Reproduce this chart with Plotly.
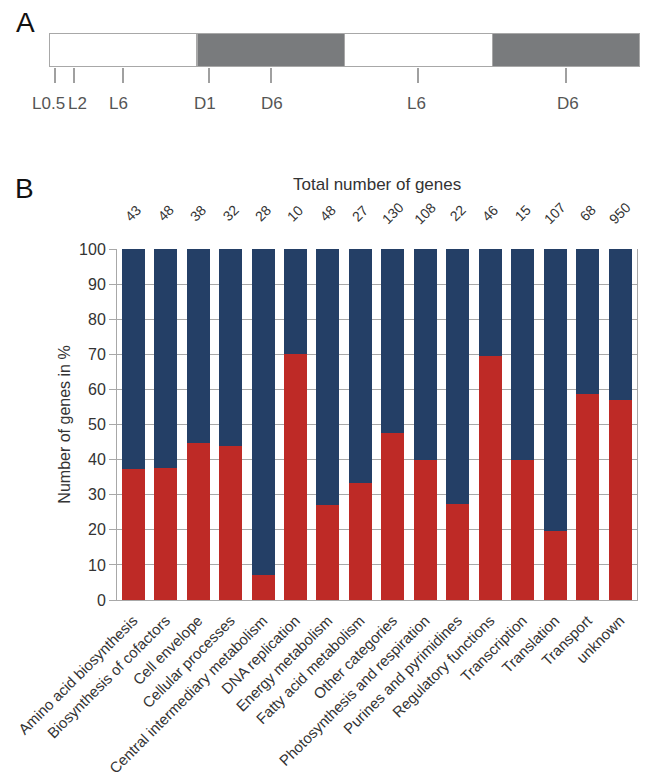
import plotly.graph_objects as go

# ---------------- data ----------------
categories = [
    "Amino acid biosynthesis", "Biosynthesis of cofactors", "Cell envelope",
    "Cellular processes", "Central intermediary metabolism", "DNA replication",
    "Energy metabolism", "Fatty acid metabolism", "Other categories",
    "Photosynthesis and respiration", "Purines and pyrimidines",
    "Regulatory functions", "Transcription", "Translation", "Transport", "unknown",
]
total_genes = [43, 48, 38, 32, 28, 10, 48, 27, 130, 108, 22, 46, 15, 107, 68, 950]
pct_red = [37.2, 37.5, 44.7, 43.8, 7.1, 70.0, 27.1, 33.3, 47.7, 39.8, 27.3, 69.6, 40.0, 19.6, 58.8, 57.1]
pct_blue = [62.8, 62.5, 55.3, 56.2, 92.9, 30.0, 72.9, 66.7, 52.3, 60.2, 72.7, 30.4, 60.0, 80.4, 41.2, 42.9]
y_ticks = [0, 10, 20, 30, 40, 50, 60, 70, 80, 90, 100]

# panel A: light/dark periods (hours) and sampling points
period_start = [0, 12, 24, 36]
period_length = [12, 12, 12, 12]
period_kind = ["light", "dark", "light", "dark"]
sample_hours = [0.5, 2, 6, 13, 18, 30, 42]
sample_labels = ["L0.5", "L2", "L6", "D1", "D6", "L6", "D6"]

# ---------------- styling ----------------
RED = "#BE2A26"
BLUE = "#243F66"
DARK = "#797B7D"
GRID = "#A8A8A8"
FONT = "Liberation Sans, Arial, sans-serif"
NARROW = "Liberation Sans Narrow, Arial Narrow, Liberation Sans, sans-serif"
label_nudge = [-7, 4, -4, -4, 1, -2, 2]  # small horizontal nudges for crowded panel-A labels

W, H, OFF = 640, 776, 8  # figure size; page body adds an 8 px margin


def px(X):
    return (X - OFF) / W


def py(Y):
    return 1 - (Y - OFF) / H


fig = go.Figure()

# panel B bars
fig.add_trace(go.Bar(x=categories, y=pct_red, marker=dict(color=RED, line=dict(width=0)),
                     xaxis="x", yaxis="y", showlegend=False))
fig.add_trace(go.Bar(x=categories, y=pct_blue, marker=dict(color=BLUE, line=dict(width=0)),
                     xaxis="x", yaxis="y", showlegend=False))

# panel A timeline bar
fig.add_trace(go.Bar(
    x=period_length, base=period_start, y=[0] * len(period_start), orientation="h",
    width=1,
    marker=dict(color=["white" if k == "light" else DARK for k in period_kind],
                line=dict(color="#A8A8A8", width=1.5)),
    xaxis="x2", yaxis="y2", showlegend=False,
))

fig.update_layout(
    width=W, height=H,
    margin=dict(l=0, r=0, t=0, b=0),
    paper_bgcolor="white", plot_bgcolor="white",
    barmode="stack", bargap=0.29,
    font=dict(family=FONT, color="#333333"),
    xaxis=dict(
        domain=[px(117), px(637)], anchor="y", automargin=False,
        tickangle=-45, tickfont=dict(size=15, color="#333333"), ticklabelstandoff=5,
        ticks="", showgrid=False, showline=True, linecolor=GRID, linewidth=1,
    ),
    yaxis=dict(
        domain=[py(600), py(249)], anchor="x", range=[0, 100], automargin=False,
        tickvals=y_ticks, ticks="outside", ticklen=7, tickcolor=GRID,
        tickfont=dict(size=16, color="#333333"),
        showgrid=True, gridcolor=GRID, gridwidth=1,
        showline=True, linecolor=GRID, linewidth=1, mirror=True,
        title=dict(text="Number of genes in %", font=dict(size=16, color="#333333"), standoff=4),
        zeroline=False,
    ),
    xaxis2=dict(
        domain=[px(49), px(640)], anchor="y2", range=[0, 48], automargin=False,
        tickvals=sample_hours, showticklabels=False,
        ticks="outside", ticklen=15, tickwidth=1.5, tickcolor="#A0A0A0",
        showgrid=False, showline=False, zeroline=False,
    ),
    yaxis2=dict(
        domain=[py(67), py(33)], anchor="x2", range=[-0.5, 0.5],
        visible=False, automargin=False,
    ),
)

# panel A sampling labels
for h, lab, dx in zip(sample_hours, sample_labels, label_nudge):
    fig.add_annotation(x=h, xref="x2", y=py(103), yref="paper", text=lab, showarrow=False,
                       xanchor="center", yanchor="middle", xshift=dx,
                       font=dict(size=17, color="#555555", family=NARROW))

# totals above bars
for c, n in zip(categories, total_genes):
    fig.add_annotation(x=c, xref="x", y=py(213), yref="paper", yanchor="middle",
                       xanchor="center", text=str(n), textangle=-45, showarrow=False,
                       font=dict(size=14, color="#333333"))

fig.add_annotation(text="Total number of genes", x=px(377), xref="paper", y=py(185),
                   yref="paper", xanchor="center", yanchor="middle", showarrow=False,
                   font=dict(size=17, color="#333333"))
fig.add_annotation(text="A", x=px(25), xref="paper", y=py(22), yref="paper",
                   xanchor="center", yanchor="middle",
                   showarrow=False, font=dict(size=28, color="#111111"))
fig.add_annotation(text="B", x=px(24), xref="paper", y=py(188), yref="paper",
                   xanchor="center", yanchor="middle",
                   showarrow=False, font=dict(size=28, color="#111111"))

fig.write_html("out.html")
